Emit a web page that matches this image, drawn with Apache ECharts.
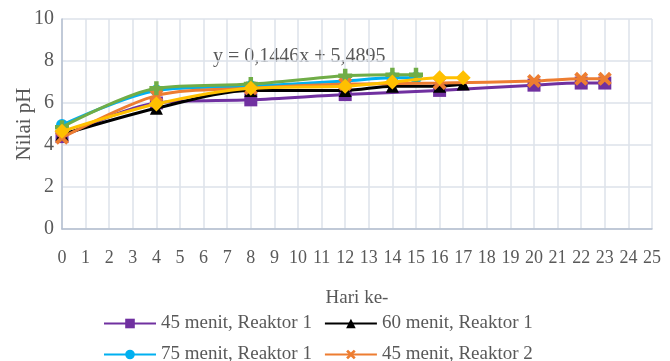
<!DOCTYPE html>
<html>
<head>
<meta charset="utf-8">
<script src="https://cdn.jsdelivr.net/npm/echarts@6/dist/echarts.min.js"></script>
<style>
  html, body { margin: 0; padding: 0; background: #fff; }
  #chart { width: 670px; height: 361px; }
</style>
</head>
<body>
<div id="chart"></div>
<script>
// pH per day, one pair of arrays per run
const seriesNames = [
  '45 menit, Reaktor 1',
  '60 menit, Reaktor 1',
  '75 menit, Reaktor 1',
  '45 menit, Reaktor 2',
  '60 menit, Reaktor 2',
  '75 menit, Reaktor 2'
];
const days45R1 = [0, 4, 8, 12, 16, 20, 22, 23];
const ph45R1   = [4.4, 6.0, 6.15, 6.4, 6.6, 6.85, 6.95, 6.95];
const days60R1 = [0, 4, 8, 12, 14, 16, 17];
const ph60R1   = [4.5, 5.75, 6.6, 6.6, 6.8, 6.8, 6.9];
const days75R1 = [0, 4, 8, 12, 14, 15];
const ph75R1   = [4.95, 6.6, 6.8, 7.05, 7.2, 7.2];
const days45R2 = [0, 4, 8, 12, 16, 20, 22, 23];
const ph45R2   = [4.35, 6.35, 6.7, 6.9, 6.95, 7.05, 7.15, 7.15];
const days60R2 = [0, 4, 8, 12, 14, 15];
const ph60R2   = [4.85, 6.7, 6.9, 7.3, 7.35, 7.35];
const days75R2 = [0, 4, 8, 12, 14, 16, 17];
const ph75R2   = [4.65, 5.95, 6.7, 6.8, 7.0, 7.2, 7.2];
const trendText = 'y = 0,1446x + 5,4895';
const xTitle = 'Hari ke-';
const yTitle = 'Nilai pH';

const FONT = 'Liberation Serif';
const TXT = '#595959';

const SYM_X = 'path://M2,0 L5,3 L8,0 L10,2 L7,5 L10,8 L8,10 L5,7 L2,10 L0,8 L3,5 L0,2 Z';
const SYM_PLUS = 'path://M3.4,0 H6.6 V3.4 H10 V6.6 H6.6 V10 H3.4 V6.6 H0 V3.4 H3.4 Z';

const runs = [
  { x: days45R1, y: ph45R1, color: '#7030a0', symbol: 'rect', size: 13 },
  { x: days60R1, y: ph60R1, color: '#000000', symbol: 'triangle', size: 13 },
  { x: days75R1, y: ph75R1, color: '#00b0f0', symbol: 'circle', size: 12 },
  { x: days45R2, y: ph45R2, color: '#ed7d31', symbol: SYM_X, size: 14 },
  { x: days60R2, y: ph60R2, color: '#70ad47', symbol: SYM_PLUS, size: 14 },
  { x: days75R2, y: ph75R2, color: '#ffc000', symbol: 'diamond', size: 15 }
];

const series = runs.map((r, i) => ({
  name: seriesNames[i],
  type: 'line',
  smooth: 0.3,
  data: r.x.map((d, k) => [d, r.y[k]]),
  symbol: r.symbol,
  symbolSize: r.size,
  showSymbol: true,
  lineStyle: { color: r.color, width: 3 },
  itemStyle: { color: r.color, borderWidth: 0 },
  emphasis: { disabled: true },
  z: 2 + i
}));

const chart = echarts.init(document.getElementById('chart'), null, { renderer: 'canvas' });
chart.setOption({
  animation: false,
  backgroundColor: '#ffffff',
  grid: { left: 62, right: 18, top: 19, bottom: 132, containLabel: false, outerBoundsMode: 'none' },
  xAxis: {
    type: 'value', min: 0, max: 25, interval: 1,
    name: xTitle, nameLocation: 'middle', nameGap: 60,
    nameTextStyle: { fontFamily: FONT, fontSize: 19, color: TXT },
    axisLine: { show: true, lineStyle: { color: '#b4bfd0', width: 1.5 } },
    axisTick: { show: false },
    axisLabel: { fontFamily: FONT, fontSize: 18, color: TXT, margin: 20 },
    splitLine: { show: true, lineStyle: { color: '#dde2ea', width: 1.5 } }
  },
  yAxis: {
    type: 'value', min: 0, max: 10, interval: 2,
    name: yTitle, nameLocation: 'middle', nameGap: 27, nameRotate: 90,
    nameMoveOverlap: false,
    nameTextStyle: { fontFamily: FONT, fontSize: 21, color: TXT },
    axisLine: { show: true, lineStyle: { color: '#b4bfd0', width: 1.5 } },
    axisTick: { show: false },
    axisLabel: { fontFamily: FONT, fontSize: 20, color: TXT, margin: 8 },
    splitLine: { show: true, lineStyle: { color: '#dde2ea', width: 1.5 } }
  },
  legend: {
    left: 98, top: 309, width: 550,
    orient: 'horizontal',
    itemWidth: 52, itemHeight: 12, itemGap: 12,
    data: seriesNames,
    textStyle: { fontFamily: FONT, fontSize: 19, color: TXT, width: 206 },
    selectedMode: false
  },
  graphic: [{
    type: 'text', left: 213, top: 47, silent: true,
    style: { text: trendText, fontFamily: FONT, fontSize: 20, fill: TXT }
  }],
  series: series
});
</script>
</body>
</html>
